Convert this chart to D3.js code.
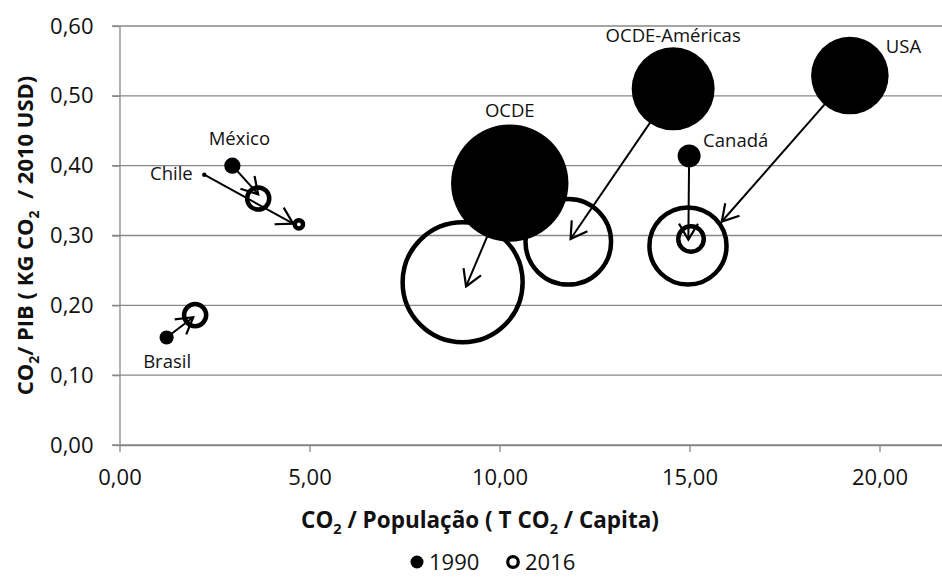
<!DOCTYPE html>
<html>
<head>
<meta charset="utf-8">
<script src="https://cdn.jsdelivr.net/npm/d3@7"></script>
<style>
  html, body { margin: 0; padding: 0; background: #fff; }
  svg { display: block; font-family: "Open Sans", "Noto Sans", sans-serif; }
</style>
</head>
<body>
<svg id="chart" width="942" height="580"></svg>
<script>
// ---------------- DATA ----------------
const countries = ["OCDE", "OCDE-Américas", "USA", "Canadá", "México", "Chile", "Brasil"];
// 1990
const perCapita1990 = [10.27, 14.57, 19.22, 14.99, 2.97, 2.23, 1.24];
const perGdp1990    = [0.375, 0.510, 0.529, 0.414, 0.400, 0.387, 0.154];
const total1990     = [11000, 5500, 4800, 420, 210, 15, 160];
// 2016
const perCapita2016 = [9.03, 11.81, 14.96, 15.04, 3.65, 4.72, 1.99];
const perGdp2016    = [0.233, 0.291, 0.285, 0.295, 0.353, 0.316, 0.186];
const total2016     = [11500, 5850, 4750, 520, 390, 55, 390];
// arrow tips (where each drawn arrow ends)
const arrowTipX = [9.12, 11.87, 15.85, 14.97, 3.65, 4.57, 1.94];
const arrowTipY = [0.227, 0.295, 0.320, 0.294, 0.359, 0.317, 0.183];

const xTicks = [0, 5, 10, 15, 20];
const yTicks = [0, 0.1, 0.2, 0.3, 0.4, 0.5, 0.6];
const seriesNames = ["1990", "2016"];

// ---------------- LAYOUT / STYLE ----------------
const W = 942, H = 580;
const svg = d3.select("#chart");
const x = d3.scaleLinear().domain([0, 22]).range([119.5, 955.5]);
const y = d3.scaleLinear().domain([0, 0.6]).range([445, 26]);
const r = d3.scaleSqrt().domain([0, 11500]).range([0, 60]);
const fmt = d => d3.format(".2f")(d).replace(".", ",");
const gridColor = "#888888";

// label placement (style, not data)
const labelPlace = {
  "OCDE":          {pos: "top",   dx: 0,  dy: -7},
  "OCDE-Américas": {pos: "top",   dx: 0,  dy: -5},
  "USA":           {pos: "abs",   dx: 36, dy: -22.5, anchor: "start"},
  "Canadá":        {pos: "abs",   dx: 14, dy: -9,  anchor: "start"},
  "México":        {pos: "abs",   dx: 7,  dy: -20.5, anchor: "middle"},
  "Chile":         {pos: "abs",   dx: -11.5, dy: 5.5, anchor: "end"},
  "Brasil":        {pos: "abs",   dx: 0.5, dy: 31, anchor: "middle"}
};

// gridlines
svg.append("g").selectAll("line").data(yTicks).join("line")
  .attr("x1", 112).attr("x2", W)
  .attr("y1", d => y(d)).attr("y2", d => y(d))
  .attr("stroke", gridColor).attr("stroke-width", 1.3);

// y axis
const yAxis = svg.append("g").attr("transform", `translate(${x(0)},0)`)
  .call(d3.axisLeft(y).tickValues(yTicks).tickFormat(fmt).tickSize(7).tickSizeOuter(0).tickPadding(19));
// x axis
const xAxis = svg.append("g").attr("transform", `translate(0,${y(0)})`)
  .call(d3.axisBottom(x).tickValues(xTicks).tickFormat(fmt).tickSize(7).tickSizeOuter(0).tickPadding(17));

[yAxis, xAxis].forEach(g => {
  g.selectAll("path.domain").attr("stroke", gridColor).attr("stroke-width", 1.3);
  g.selectAll(".tick line").attr("stroke", gridColor).attr("stroke-width", 1.3);
  g.selectAll(".tick text").attr("font-size", 22).attr("fill", "#111")
    .attr("font-family", "'Open Sans', 'Noto Sans', sans-serif");
});

// data rows
const rows = countries.map((c, i) => ({
  name: c,
  x0: perCapita1990[i], y0: perGdp1990[i], s0: total1990[i],
  x1: perCapita2016[i], y1: perGdp2016[i], s1: total2016[i],
  tx: arrowTipX[i], ty: arrowTipY[i]
}));

// arrow marker
const defs = svg.append("defs");
defs.append("marker")
  .attr("id", "arrowhead")
  .attr("markerUnits", "userSpaceOnUse")
  .attr("viewBox", "-20 -12 22 24")
  .attr("refX", 0).attr("refY", 0)
  .attr("markerWidth", 22).attr("markerHeight", 24)
  .attr("orient", "auto")
  .append("path")
  .attr("d", "M-16,-9.5 L0,0 L-16,9.5")
  .attr("fill", "none").attr("stroke", "#000").attr("stroke-width", 2.2)
  .attr("stroke-linejoin", "miter");

// 2016 rings
svg.append("g").selectAll("circle").data(rows).join("circle")
  .attr("cx", d => x(d.x1)).attr("cy", d => y(d.y1)).attr("r", d => r(d.s1))
  .attr("fill", "none").attr("stroke", "#000").attr("stroke-width", 4.5);

// 1990 filled bubbles
svg.append("g").selectAll("circle").data(rows).join("circle")
  .attr("cx", d => x(d.x0)).attr("cy", d => y(d.y0)).attr("r", d => r(d.s0))
  .attr("fill", "#000");

// arrows
svg.append("g").selectAll("line").data(rows).join("line")
  .attr("x1", d => x(d.x0)).attr("y1", d => y(d.y0))
  .attr("x2", d => x(d.tx)).attr("y2", d => y(d.ty))
  .attr("stroke", "#000").attr("stroke-width", 2)
  .attr("marker-end", "url(#arrowhead)");

// labels
svg.append("g").selectAll("text").data(rows).join("text")
  .attr("font-size", 18.5).attr("fill", "#111")
  .each(function(d) {
    const p = labelPlace[d.name];
    const cx = x(d.x0), cy = y(d.y0);
    const t = d3.select(this);
    if (p.pos === "top") {
      t.attr("x", cx + p.dx).attr("y", cy - r(d.s0) + p.dy).attr("text-anchor", "middle");
    } else {
      t.attr("x", cx + p.dx).attr("y", cy + p.dy).attr("text-anchor", p.anchor);
    }
  })
  .text(d => d.name);

// axis titles
const xt = svg.append("text").attr("x", 480).attr("y", 528)
  .attr("text-anchor", "middle").attr("font-weight", "bold").attr("font-size", 22.5).attr("fill", "#111");
xt.append("tspan").text("CO");
xt.append("tspan").attr("font-size", 14.5).attr("dy", 5.5).text("2");
xt.append("tspan").attr("dy", -5.5).text(" / População ( T CO");
xt.append("tspan").attr("font-size", 14.5).attr("dy", 5.5).text("2");
xt.append("tspan").attr("dy", -5.5).text(" / Capita)");

const yt = svg.append("text").attr("transform", "translate(33,235.5) rotate(-90)")
  .attr("text-anchor", "middle").attr("font-weight", "bold").attr("font-size", 22).attr("fill", "#111");
yt.append("tspan").text("CO");
yt.append("tspan").attr("font-size", 14).attr("dy", 5.5).text("2");
yt.append("tspan").attr("dy", -5.5).text("/ PIB ( KG CO");
yt.append("tspan").attr("font-size", 14).attr("dy", 5.5).text("2");
yt.append("tspan").attr("dy", -5.5).text("\u00a0 / 2010 USD)");

// legend
const leg = svg.append("g").attr("font-size", 22).attr("fill", "#111");
const legItems = [
  {name: seriesNames[0], cx: 417, tx: 429, filled: true},
  {name: seriesNames[1], cx: 513, tx: 525, filled: false}
];
legItems.forEach(it => {
  if (it.filled) {
    leg.append("circle").attr("cx", it.cx).attr("cy", 562).attr("r", 6.5).attr("fill", "#000");
  } else {
    leg.append("circle").attr("cx", it.cx).attr("cy", 562).attr("r", 5.3)
      .attr("fill", "none").attr("stroke", "#000").attr("stroke-width", 3.2);
  }
  leg.append("text").attr("x", it.tx).attr("y", 570).text(it.name);
});
</script>
</body>
</html>
